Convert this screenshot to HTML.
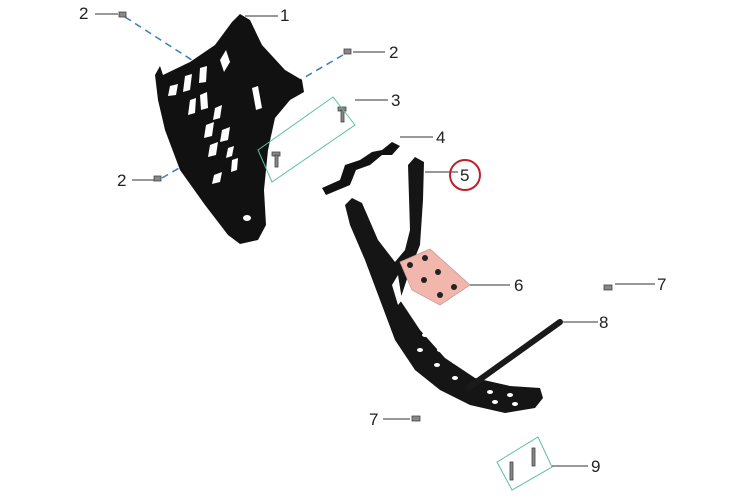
<!DOCTYPE html>
<html><head><meta charset="utf-8"><style>
html,body{margin:0;padding:0;background:#fff;width:750px;height:500px;overflow:hidden}
svg text{font-family:"Liberation Sans",sans-serif;font-size:17px;fill:#222}
</style></head><body>
<svg width="750" height="500" viewBox="0 0 750 500" xmlns="http://www.w3.org/2000/svg">
<!-- dashed blue lines -->
<g stroke="#3a7cc0" stroke-width="1.5" stroke-dasharray="7,5" fill="none">
<line x1="125" y1="17" x2="195" y2="62"/>
<line x1="343" y1="55" x2="300" y2="80"/>
<line x1="162" y1="178" x2="210" y2="150"/>
</g>
<!-- part 1 skid plate -->
<path d="M240,14 L250,20 L262,45 L285,70 L302,80 L304,92 L290,100 L275,118 L268,150 L264,190 L266,225 L258,240 L240,244 L228,235 L205,205 L180,170 L165,130 L158,100 L155,75 L160,66 L163,75 L190,62 L215,45 L232,22 Z" fill="#111"/>
<g fill="#fff">
<polygon points="220,60 226,50 230,62 224,72"/>
<polygon points="200,68 207,66 206,82 199,83"/>
<polygon points="185,76 192,74 190,90 183,92"/>
<polygon points="170,86 178,84 176,95 168,96"/>
<polygon points="200,95 207,92 208,108 201,110"/>
<polygon points="190,100 196,98 195,113 188,115"/>
<polygon points="215,108 222,105 220,118 213,120"/>
<polygon points="206,125 214,122 212,136 204,138"/>
<polygon points="222,130 230,127 228,140 220,142"/>
<polygon points="210,145 218,142 216,155 208,157"/>
<polygon points="228,148 234,146 232,156 226,158"/>
<polygon points="214,175 222,172 220,182 212,184"/>
<polygon points="232,160 238,158 237,170 231,172"/>
<polygon points="252,88 258,86 262,108 256,110"/>
<ellipse cx="247" cy="218" rx="4" ry="3"/>
</g>
<!-- small bolts (2,7) -->
<g fill="#888" stroke="#444" stroke-width="0.8">
<rect x="119" y="12" width="7" height="5"/>
<rect x="344" y="49" width="7" height="5"/>
<rect x="154" y="176" width="7" height="5"/>
<rect x="604" y="285" width="8" height="5"/>
<rect x="412" y="416" width="8" height="5"/>
<rect x="272" y="152" width="8" height="4"/>
<rect x="275" y="155" width="3" height="12"/>
<rect x="338" y="107" width="8" height="4"/>
<rect x="341" y="110" width="3" height="12"/>
<rect x="510" y="462" width="3" height="18"/>
<rect x="532" y="448" width="3" height="18"/>
</g>
<!-- green boxes -->
<g stroke="#5bbf9f" stroke-width="1" fill="none">
<polygon points="258,150 333,97 355,125 272,182"/>
<polygon points="497,462 538,437 552,467 512,490"/>
</g>
<!-- part 4 bracket -->
<path d="M322,188 L340,180 L345,165 L360,160 L372,152 L382,150 L392,142 L400,146 L392,155 L382,155 L370,165 L356,170 L350,185 L326,195 Z" fill="#111"/>
<!-- part 5 frame -->
<path d="M345,205 L352,198 L362,203 L378,240 L395,262 L405,250 L410,230 L408,165 L415,157 L424,162 L423,200 L420,245 L410,270 L400,300 L420,330 L445,358 L475,378 L510,386 L540,388 L543,398 L535,408 L505,413 L470,405 L440,390 L415,370 L395,340 L380,300 L365,260 L350,225 Z" fill="#151515"/>
<g fill="#fff">
<ellipse cx="425" cy="335" rx="3" ry="2"/>
<ellipse cx="440" cy="350" rx="3" ry="2"/>
<ellipse cx="455" cy="362" rx="3" ry="2"/>
<ellipse cx="420" cy="350" rx="3" ry="2"/>
<ellipse cx="437" cy="365" rx="3" ry="2"/>
<ellipse cx="455" cy="378" rx="3" ry="2"/>
<ellipse cx="490" cy="392" rx="3" ry="2"/>
<ellipse cx="510" cy="395" rx="3" ry="2"/>
<ellipse cx="495" cy="402" rx="3" ry="2"/>
<ellipse cx="515" cy="404" rx="3" ry="2"/>
<polygon points="392,285 398,275 402,300 398,305"/>
</g>
<!-- part 6 pad -->
<polygon points="400,262 430,249 470,285 440,305 412,290" fill="#f1b7ad" stroke="#c99" stroke-width="0.8"/>
<g fill="#222">
<ellipse cx="410" cy="265" rx="3" ry="3"/><ellipse cx="425" cy="258" rx="3" ry="3"/>
<ellipse cx="424" cy="280" rx="3" ry="3"/><ellipse cx="438" cy="272" rx="3" ry="3"/>
<ellipse cx="440" cy="295" rx="3" ry="3"/><ellipse cx="454" cy="287" rx="3" ry="3"/>
</g>
<!-- part 8 bar -->
<line x1="468" y1="388" x2="560" y2="322" stroke="#1a1a1a" stroke-width="6" stroke-linecap="round"/>
<!-- leader lines -->
<g stroke="#333" stroke-width="1" fill="none">
<line x1="95" y1="14" x2="118" y2="14"/>
<line x1="245" y1="16" x2="278" y2="16"/>
<line x1="353" y1="52" x2="385" y2="52"/>
<line x1="132" y1="180" x2="154" y2="180"/>
<line x1="355" y1="100" x2="388" y2="100"/>
<line x1="400" y1="137" x2="433" y2="137"/>
<line x1="425" y1="172" x2="458" y2="172"/>
<line x1="470" y1="285" x2="510" y2="285"/>
<line x1="615" y1="284" x2="655" y2="284"/>
<line x1="562" y1="322" x2="598" y2="322"/>
<line x1="383" y1="419" x2="410" y2="419"/>
<line x1="552" y1="466" x2="588" y2="466"/>
</g>
<circle cx="465" cy="175" r="15" stroke="#c0202a" stroke-width="2" fill="none"/>
<text x="79" y="19">2</text>
<text x="280" y="21">1</text>
<text x="389" y="58">2</text>
<text x="117" y="186">2</text>
<text x="391" y="106">3</text>
<text x="436" y="143">4</text>
<text x="460" y="181">5</text>
<text x="514" y="291">6</text>
<text x="657" y="290">7</text>
<text x="599" y="328">8</text>
<text x="369" y="425">7</text>
<text x="591" y="472">9</text>
</svg>
</body></html>
